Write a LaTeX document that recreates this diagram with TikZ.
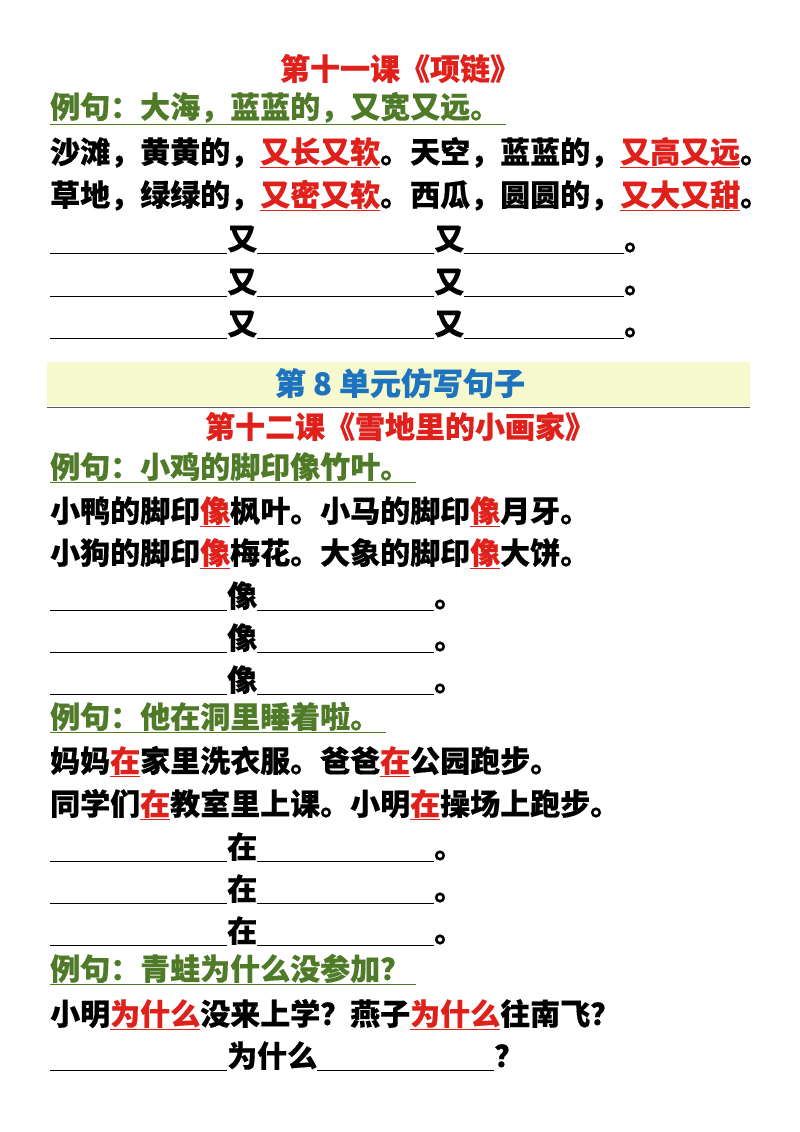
\documentclass[tikz,border=0pt]{standalone}
\usepackage{fontspec}
\setmainfont{Noto Sans CJK SC}[FakeBold=0.4]
\definecolor{ttred}{HTML}{E0201B}
\definecolor{exgreen}{HTML}{4F7A28}
\definecolor{hdblue}{HTML}{1E73BE}
\definecolor{band}{HTML}{F6F9CD}
\newcommand{\bl}[1]{\rule[-4pt]{#1pt}{1pt}}
\newcommand{\rw}[1]{{\color{ttred}\underline{#1}}}
\newcommand{\ex}[1]{{\color{exgreen}\underline{#1\hspace{6pt}}}}
\begin{document}
\begin{tikzpicture}[x=1pt,y=-1pt,
  txt/.style={anchor=base west,inner sep=0pt,font=\fontsize{30}{30}\selectfont\bfseries},
  ttl/.style={anchor=base,inner sep=0pt,font=\fontsize{30}{30}\selectfont\bfseries,text=ttred}]
\useasboundingbox (0,0) rectangle (800,1132);
\fill[white] (0,0) rectangle (800,1132);
\node[ttl] (t1) at (400,80) {第十一课《项链》};
\node[txt] (e1) at (50,118) {\ex{例句：大海，蓝蓝的，又宽又远。}};
\node[txt] (l1) at (50,163) {沙滩，黄黄的，\rw{又长又软}。天空，蓝蓝的，\rw{又高又远}。};
\node[txt] (l2) at (50,206) {草地，绿绿的，\rw{又密又软}。西瓜，圆圆的，\rw{又大又甜}。};
\foreach \y/\n in {250/b1,293/b2,335/b3}
  \node[txt] (\n) at (50,\y) {\bl{177}又\bl{177}又\bl{160}。};
\fill[band] (47,362) rectangle (750,406);
\draw[gray!70!black,line width=0.8pt] (47,407) -- (750,407);
\node[anchor=base,inner sep=0pt,font=\fontsize{31}{31}\selectfont\bfseries,text=hdblue] (h) at (400,395) {第 8 单元仿写句子};
\node[ttl] (t2) at (400,438) {第十二课《雪地里的小画家》};
\node[txt] (e2) at (50,478) {\ex{例句：小鸡的脚印像竹叶。}};
\node[txt] (l3) at (50,522) {小鸭的脚印\rw{像}枫叶。小马的脚印\rw{像}月牙。};
\node[txt] (l4) at (50,564) {小狗的脚印\rw{像}梅花。大象的脚印\rw{像}大饼。};
\foreach \y/\n in {607/b4,649/b5,691/b6}
  \node[txt] (\n) at (50,\y) {\bl{177}像\bl{177}。};
\node[txt] (e3) at (50,728) {\ex{例句：他在洞里睡着啦。}};
\node[txt] (l5) at (50,772) {妈妈\rw{在}家里洗衣服。爸爸\rw{在}公园跑步。};
\node[txt] (l6) at (50,815) {同学们\rw{在}教室里上课。小明\rw{在}操场上跑步。};
\foreach \y/\n in {858/b7,900/b8,942/b9}
  \node[txt] (\n) at (50,\y) {\bl{177}在\bl{177}。};
\node[txt] (e4) at (50,980) {\ex{例句：青蛙为什么没参加？}};
\node[txt] (l7) at (50,1025) {小明\rw{为什么}没来上学？燕子\rw{为什么}往南飞？};
\node[txt] (b10) at (50,1067) {\bl{177}为什么\bl{177}？};
\end{tikzpicture}
\end{document}
